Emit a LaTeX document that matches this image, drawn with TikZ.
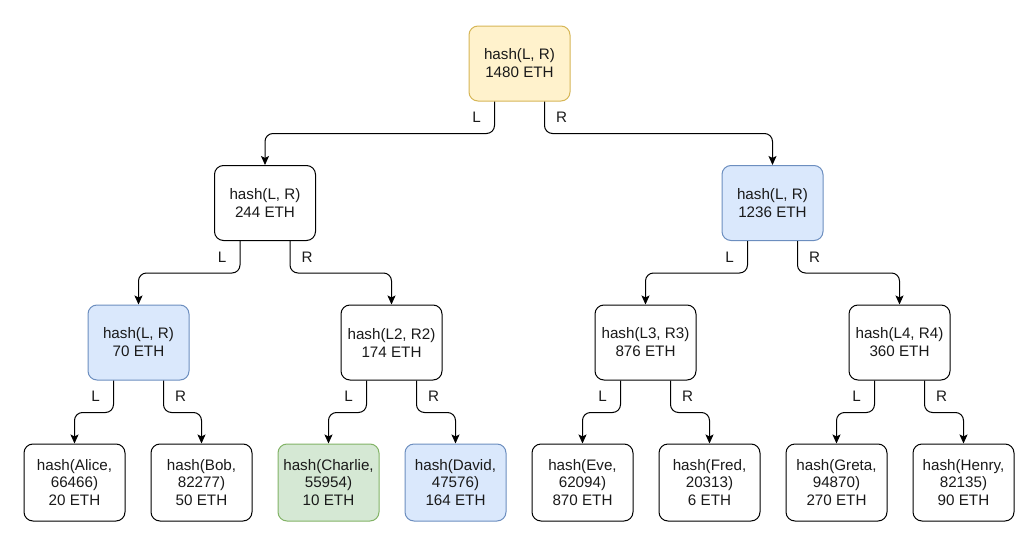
\documentclass[tikz,border=0pt]{standalone}
\usepackage{fontspec}
\setmainfont{Liberation Sans}
\usetikzlibrary{arrows.meta}
\definecolor{yfill}{HTML}{FFF2CC}\definecolor{ydraw}{HTML}{D6B656}
\definecolor{bfill}{HTML}{DAE8FC}\definecolor{bdraw}{HTML}{6C8EBF}
\definecolor{gfill}{HTML}{D5E8D4}\definecolor{gdraw}{HTML}{82B366}
\definecolor{txt}{HTML}{1A1A1A}
\tikzset{
  box/.style={draw=black, line width=1pt, fill=white, rounded corners=9pt, minimum width=101pt, minimum height=75pt, align=center, inner sep=2pt, text=txt, font=\fontsize{15.2}{18}\selectfont},
  leaf/.style={box, minimum height=77pt, font=\fontsize{15.2}{17.5}\selectfont},
  ybox/.style={fill=yfill, draw=ydraw},
  bbox/.style={fill=bfill, draw=bdraw},
  gbox/.style={fill=gfill, draw=gdraw},
  edge/.style={line width=1pt, rounded corners=8pt, -{Stealth[length=9pt,width=8pt,inset=2pt]}},
  lab/.style={font=\fontsize{15.2}{18}\selectfont, text=txt, inner sep=0pt}
}
\begin{document}
\begin{tikzpicture}[x=1pt,y=-1pt]
\useasboundingbox (0,0) rectangle (1029,541);
% level 1
\node[box,ybox] (r) at (519.5,63.5) {hash(L, R)\\1480 ETH};
% level 2
\node[box] (a) at (265,203) {hash(L, R)\\244 ETH};
\node[box,bbox] (b) at (772.5,203) {hash(L, R)\\1236 ETH};
% level 3
\node[box,bbox] (aa) at (138.5,342.5) {hash(L, R)\\70 ETH};
\node[box] (ab) at (391.5,342.5) {hash(L2, R2)\\174 ETH};
\node[box] (ba) at (645.5,342.5) {hash(L3, R3)\\876 ETH};
\node[box] (bb) at (899.5,342.5) {hash(L4, R4)\\360 ETH};
% leaves
\node[leaf] (l1) at (74.5,482.5) {hash(Alice,\\66466)\\20 ETH};
\node[leaf] (l2) at (201.5,482.5) {hash(Bob,\\82277)\\50 ETH};
\node[leaf,gbox] (l3) at (328.5,482.5) {hash(Charlie,\\55954)\\10 ETH};
\node[leaf,bbox] (l4) at (455.5,482.5) {hash(David,\\47576)\\164 ETH};
\node[leaf] (l5) at (582.5,482.5) {hash(Eve,\\62094)\\870 ETH};
\node[leaf] (l6) at (709.5,482.5) {hash(Fred,\\20313)\\6 ETH};
\node[leaf] (l7) at (836.5,482.5) {hash(Greta,\\94870)\\270 ETH};
\node[leaf] (l8) at (963.5,482.5) {hash(Henry,\\82135)\\90 ETH};
% edges
\foreach \p/\c/\d in {r/a/b, a/aa/ab, b/ba/bb, aa/l1/l2, ab/l3/l4, ba/l5/l6, bb/l7/l8}{
  \draw[edge] ([xshift=-25pt]\p.south) -- node[lab, midway, xshift=-18pt]{L} ++(0,32) -| (\c.north);
  \draw[edge] ([xshift=25pt]\p.south) -- node[lab, midway, xshift=17pt]{R} ++(0,32) -| (\d.north);
}
\end{tikzpicture}
\end{document}
